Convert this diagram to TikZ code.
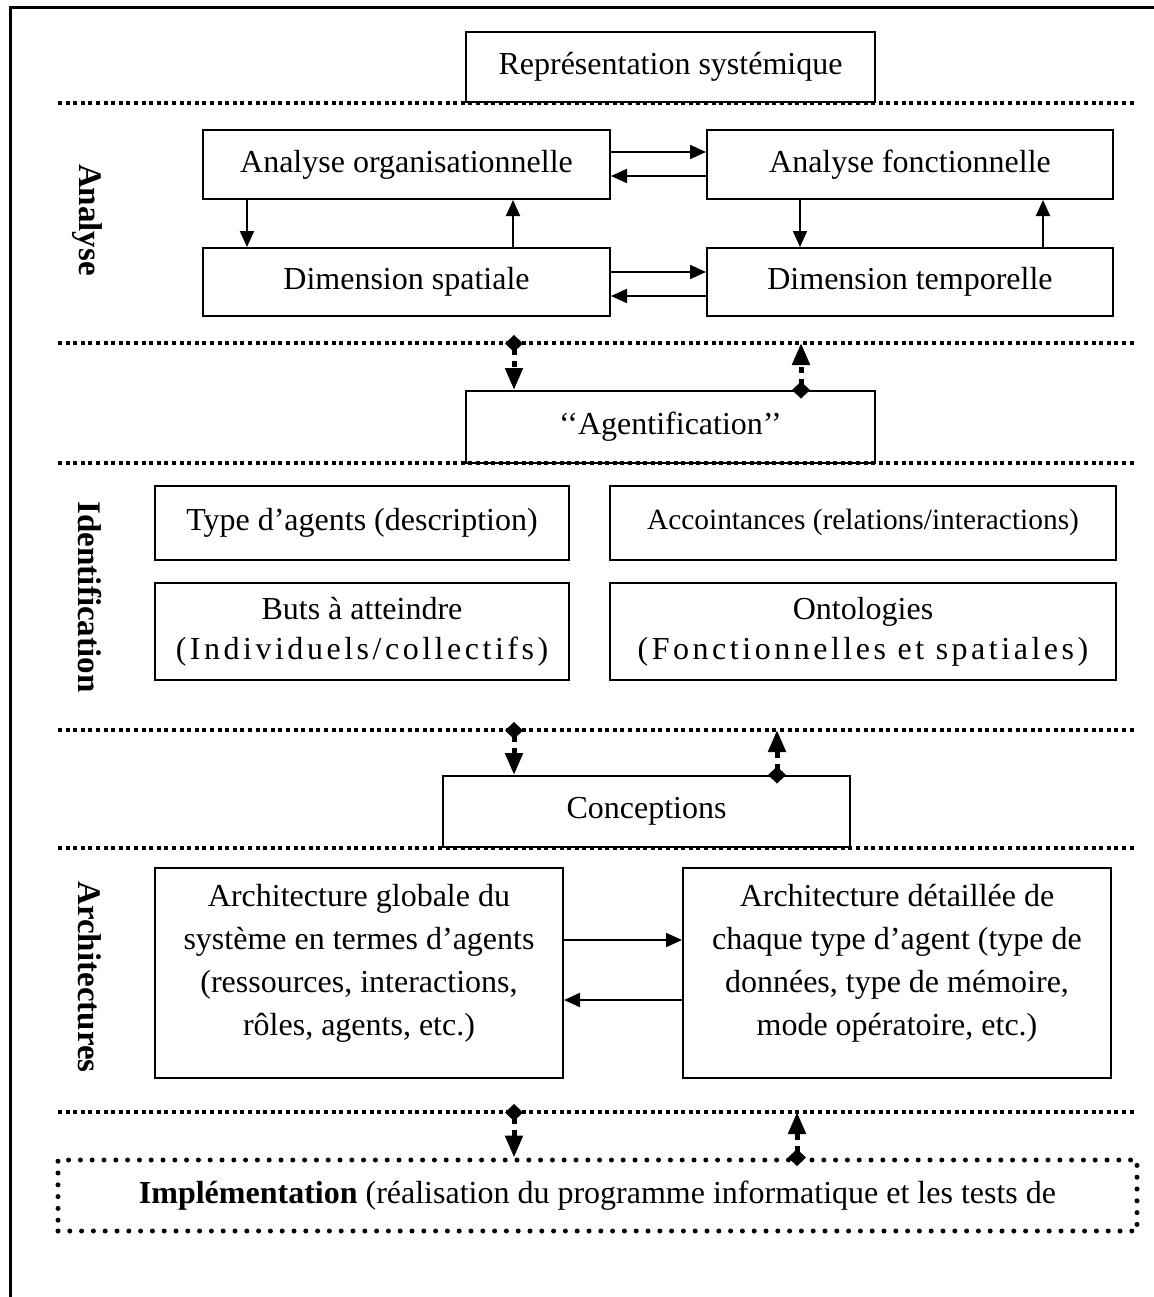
\documentclass[tikz,border=0pt]{standalone}
\usepackage{fontspec}
\setmainfont{Liberation Serif}
\newfontfamily\widefont[LetterSpace=11]{Liberation Serif}
\usetikzlibrary{arrows.meta}
\begin{document}
\begin{tikzpicture}[x=0.5pt,y=-0.5pt,
  every node/.style={font=\fontsize{16}{21.5}\selectfont},
  box/.style={draw,line width=1pt,inner sep=0pt,align=center},
  sep/.style={line width=1.6pt,dash pattern=on 2pt off 1.8pt},
  arr/.style={line width=1pt,-{Triangle[length=8pt,width=7pt]}},
  darr/.style={line width=2.5pt,dash pattern=on 3pt off 3pt,{Diamond[length=8.5pt,width=9pt]}-{Triangle[length=11pt,width=8.5pt]}},
  sidelab/.style={rotate=-90,font=\fontsize{16.5}{20}\selectfont\bfseries},
  frame/.style={line width=1.5pt}]
\useasboundingbox (0,0) rectangle (1154,1297);
\draw[frame] (10,1297) -- (10,7) -- (1154,7);

% boxes
\node[box,minimum width=204.5pt,minimum height=35pt] (T) at (670.5,67) {Représentation systémique};
\node[box,minimum width=203.5pt,minimum height=34.5pt] (AO) at (406.5,164.5) {Analyse organisationnelle};
\node[box,minimum width=203pt,minimum height=34.5pt] (AF) at (910,164.5) {Analyse fonctionnelle};
\node[box,minimum width=203.5pt,minimum height=34pt] (DS) at (406.5,282) {Dimension spatiale};
\node[box,minimum width=203pt,minimum height=34pt] (DT) at (910,282) {Dimension temporelle};
\node[box,minimum width=204.5pt,minimum height=36pt] (AG) at (670.5,427) {‘‘Agentification’’};
\node[box,minimum width=207pt,minimum height=37pt] (TY) at (362,522.5) {Type d’agents (description)};
\node[box,minimum width=253pt,minimum height=37pt,font=\fontsize{14.7}{18}\selectfont] (AC) at (863,522.5) {Accointances (relations/interactions)};
\node[box,minimum width=207pt,minimum height=48.5pt,font=\fontsize{16}{20}\selectfont] (BU) at (362,631.5) {Buts à atteindre\\{\widefont (Individuels/collectifs)}};
\node[box,minimum width=253pt,minimum height=48.5pt,font=\fontsize{16}{20}\selectfont] (ON) at (863,631.5) {Ontologies\\{\widefont (Fonctionnelles et spatiales)}};
\node[box,minimum width=203.5pt,minimum height=35.5pt] (CO) at (646.5,811.5) {Conceptions};
\node[box,minimum width=204pt,minimum height=105pt] (AR1) at (359,973) {};
\node[box,minimum width=214pt,minimum height=105pt] (AR2) at (897,973) {};
\node[align=center] (AR1t) at ([yshift=5pt]AR1.center) {Architecture globale du\\système en termes d’agents\\(ressources, interactions,\\rôles, agents, etc.)};
\node[align=center] (AR2t) at ([yshift=5pt]AR2.center) {Architecture détaillée de\\chaque type d’agent (type de\\données, type de mémoire,\\mode opératoire, etc.)};
\node[draw,line width=2.5pt,line cap=round,dash pattern=on 0pt off 5.9pt,minimum width=539.5pt,minimum height=35.5pt,inner sep=0pt] (IM) at (597.5,1195.5) {};
\node[anchor=base] (IMT) at (597.5,1203) {\textbf{Implémentation} (réalisation du programme informatique et les tests de};

% side labels
\node[sidelab] (L1) at (87,220) {Analyse};
\node[sidelab] (L2) at (90,597) {Identification};
\node[sidelab] (L3) at (90,977) {Architectures};

% separators
\draw[sep] (58,103) -- (1137,103);
\draw[sep] (58,343) -- (1137,343);
\draw[sep] (58,463) -- (1137,463);
\draw[sep] (58,730) -- (1137,730);
\draw[sep] (58,848) -- (1137,848);
\draw[sep] (58,1112) -- (1137,1112);
\coordinate (S2a) at (514,335);
\coordinate (S2b) at (801,343);
\coordinate (S4a) at (514,722);
\coordinate (S4b) at (777,730);
\coordinate (S6a) at (514,1104);
\coordinate (S6b) at (797,1112);

% solid arrows
\draw[arr] (AO.east |- 0,152) -- (AF.west |- 0,152);
\draw[arr] (AF.west |- 0,176) -- (AO.east |- 0,176);
\draw[arr] (DS.east |- 0,272) -- (DT.west |- 0,272);
\draw[arr] (DT.west |- 0,296) -- (DS.east |- 0,296);
\draw[arr] (AO.south -| 247,0) -- (DS.north -| 247,0);
\draw[arr] (DS.north -| 513,0) -- (AO.south -| 513,0);
\draw[arr] (AF.south -| 800,0) -- (DT.north -| 800,0);
\draw[arr] (DT.north -| 1043,0) -- (AF.south -| 1043,0);
\draw[arr] (AR1.east |- 0,940) -- (AR2.west |- 0,940);
\draw[arr] (AR2.west |- 0,1000) -- (AR1.east |- 0,1000);

% dotted arrows
\draw[darr] (S2a) -- (AG.north -| S2a);
\draw[darr] ([yshift=-4.25pt]AG.north -| S2b) -- (S2b);
\draw[darr] (S4a) -- (CO.north -| S4a);
\draw[darr] ([yshift=-4.25pt]CO.north -| S4b) -- (S4b);
\draw[darr] (S6a) -- (IM.north -| S6a);
\draw[darr] ([yshift=-4.25pt]IM.north -| S6b) -- (S6b);
\end{tikzpicture}
\end{document}
